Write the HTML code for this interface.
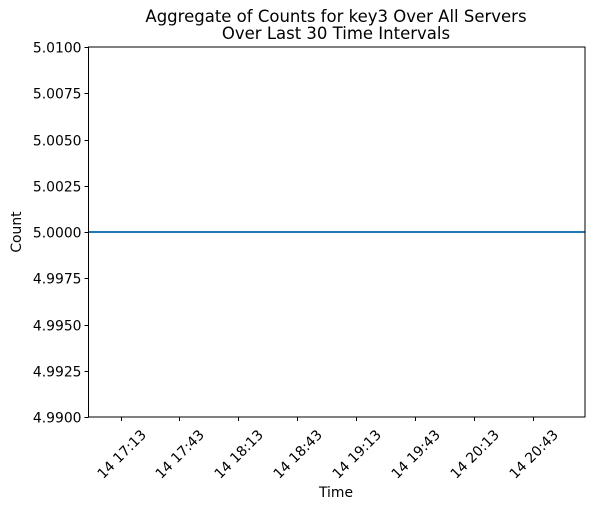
<!DOCTYPE html>
<html><head><meta charset="utf-8"><style>
body{margin:0;background:#fff;}
svg{display:block;font-family:"DejaVu Sans","Liberation Sans",sans-serif;}
</style></head><body>
<svg id="c" width="597" height="510"></svg>
<script>
const timesMin=[1016.7,1025.4,1034.1,1042.9,1051.6,1060.3,1069.0,1077.7,1086.5,1095.2,1103.9,1112.6,1121.3,1130.1,1138.8,1147.5,1156.2,1164.9,1173.7,1182.4,1191.1,1199.8,1208.5,1217.3,1226.0,1234.7,1243.4,1252.1,1260.9,1269.6];
const counts=[5,5,5,5,5,5,5,5,5,5,5,5,5,5,5,5,5,5,5,5,5,5,5,5,5,5,5,5,5,5];
const xTickMin=[1033,1063,1093,1123,1153,1183,1213,1243];
const xTickLabels=["14 17:13","14 17:43","14 18:13","14 18:43","14 19:13","14 19:43","14 20:13","14 20:43"];
const yTicks=[4.99,4.9925,4.995,4.9975,5.0,5.0025,5.005,5.0075,5.01];
const L=88.5,R=585,T=47,B=417;
const xMin=Math.min(...timesMin),xMax=Math.max(...timesMin);
const x=v=>L+(v-xMin)/(xMax-xMin)*(R-L);
const y=v=>B-(v-4.99)/(0.02)*(B-T);
const svg=document.getElementById('c');
const NS='http://www.w3.org/2000/svg';
function mk(tag,attrs,text){const e=document.createElementNS(NS,tag);for(const k in attrs)e.setAttribute(k,attrs[k]);if(text!=null)e.textContent=text;svg.appendChild(e);return e;}
let e;
e=mk('text',{x:336,y:22,'text-anchor':'middle','font-size':16.5},'Aggregate of Counts for key3 Over All Servers');


e=mk('text',{x:336,y:39,'text-anchor':'middle','font-size':16.5},'Over Last 30 Time Intervals');


yTicks.forEach(v=>{const yy=Math.round(y(v))+0.5;
 e=mk('line',{x1:L-4,x2:L,y1:yy,y2:yy,stroke:'#000','stroke-width':1});
 
 
 e=mk('text',{x:L-7,y:yy+5,'text-anchor':'end','font-size':13.9},v.toFixed(4));
 
 
});
xTickMin.forEach((v,i)=>{const xx=Math.round(x(v))+0.5;
 e=mk('line',{x1:xx,x2:xx,y1:B,y2:B+4,stroke:'#000','stroke-width':1});
 
 
 const cy=B+37;
 e=mk('text',{x:xx,y:cy+5,'text-anchor':'middle','font-size':13.9,transform:`rotate(-45 ${xx} ${cy})`},xTickLabels[i]);
 
 
});
const pts=timesMin.map((t,i)=>x(t)+','+y(counts[i])).join(' ');
e=mk('polyline',{points:pts,fill:'none',stroke:'#1f77b4','stroke-width':2});


e=mk('rect',{x:L,y:T,width:R-L,height:B-T,fill:'none',stroke:'#000','stroke-width':1});


e=mk('text',{x:336,y:497,'text-anchor':'middle','font-size':13.9},'Time');


e=mk('text',{x:21,y:232,'text-anchor':'middle','font-size':13.9,transform:'rotate(-90 21 232)'},'Count');


</script>
</body></html>
